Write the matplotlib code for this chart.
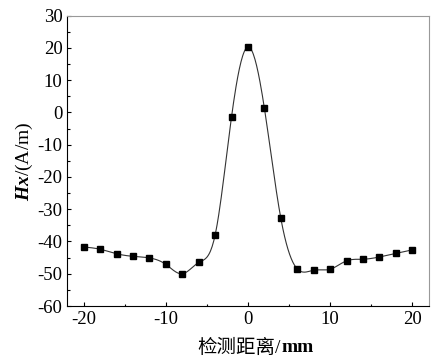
import matplotlib.pyplot as plt
import numpy as np

# 检测距离 (mm) 与 Hx (A/m)
distance = [-20, -18, -16, -14, -12, -10, -8, -6, -4, -2, 0,
            2, 4, 6, 8, 10, 12, 14, 16, 18, 20]
hx = [-41.7, -42.4, -43.8, -44.6, -45.1, -47.1, -50.0, -46.5, -38.0, -1.3, 20.3,
      1.3, -32.8, -48.5, -48.9, -48.6, -46.0, -45.5, -44.8, -43.7, -42.6]

x_ticks = [-20, -10, 0, 10, 20]
y_ticks = [-60, -50, -40, -30, -20, -10, 0, 10, 20, 30]

plt.rcParams['font.family'] = ['Liberation Serif', 'Noto Sans CJK SC']
plt.rcParams['axes.unicode_minus'] = False
plt.rcParams['mathtext.fontset'] = 'custom'
plt.rcParams['mathtext.rm'] = 'Liberation Serif'
plt.rcParams['mathtext.it'] = 'Liberation Serif:italic'
plt.rcParams['mathtext.bf'] = 'Liberation Serif:bold'
plt.rcParams['mathtext.bfit'] = 'Liberation Serif:bold:italic'


def natural_spline(x, y, n=400):
    # 自然三次样条，用来画平滑曲线
    x = np.asarray(x, float)
    y = np.asarray(y, float)
    k = len(x)
    h = np.diff(x)
    A = np.zeros((k, k))
    b = np.zeros(k)
    A[0, 0] = A[-1, -1] = 1
    for i in range(1, k - 1):
        A[i, i - 1] = h[i - 1]
        A[i, i] = 2 * (h[i - 1] + h[i])
        A[i, i + 1] = h[i]
        b[i] = 3 * ((y[i + 1] - y[i]) / h[i] - (y[i] - y[i - 1]) / h[i - 1])
    c = np.linalg.solve(A, b)
    xs = np.linspace(x[0], x[-1], n)
    idx = np.clip(np.searchsorted(x, xs) - 1, 0, k - 2)
    dx = xs - x[idx]
    hi = h[idx]
    bb = (y[idx + 1] - y[idx]) / hi - hi * (2 * c[idx] + c[idx + 1]) / 3
    dd = (c[idx + 1] - c[idx]) / (3 * hi)
    ys = y[idx] + bb * dx + c[idx] * dx ** 2 + dd * dx ** 3
    return xs, ys


fig = plt.figure(figsize=(4.41, 3.59), dpi=100)
ax = fig.add_axes([0.1526, 0.1476, 0.8194, 0.8087])

xs, ys = natural_spline(distance, hx)
ax.plot(xs, ys, color='#333333', lw=0.8)
ax.plot(distance, hx, ls='none', marker='s', ms=4.2, color='black')

ax.set_xlim(-22, 22)
ax.set_ylim(-60, 30)
ax.set_xticks(x_ticks)
ax.set_yticks(y_ticks)
ax.set_xticks([-15, -5, 5, 15], minor=True)
ax.set_yticks(np.arange(-55, 30, 10), minor=True)
ax.tick_params(which='both', direction='in', labelsize=13.5, width=0.8)
ax.tick_params(which='major', length=3)
ax.tick_params(which='minor', length=1.8)
for side in ['top', 'right']:
    ax.spines[side].set_color('#999999')
for sp in ax.spines.values():
    sp.set_linewidth(0.8)

# x 轴标题：中文常规，mm 加粗
fig.text(281 / 441, 1 - 348 / 359, '检测距离/', fontsize=14,
         ha='right', va='center')
fig.text(281 / 441, 1 - 348 / 359, 'mm', fontsize=14, fontweight='bold',
         ha='left', va='center')
ax.set_ylabel('$\\mathbfit{Hx}$/(A/m)', fontsize=14, labelpad=2)

fig.savefig('out.png', dpi=100)
